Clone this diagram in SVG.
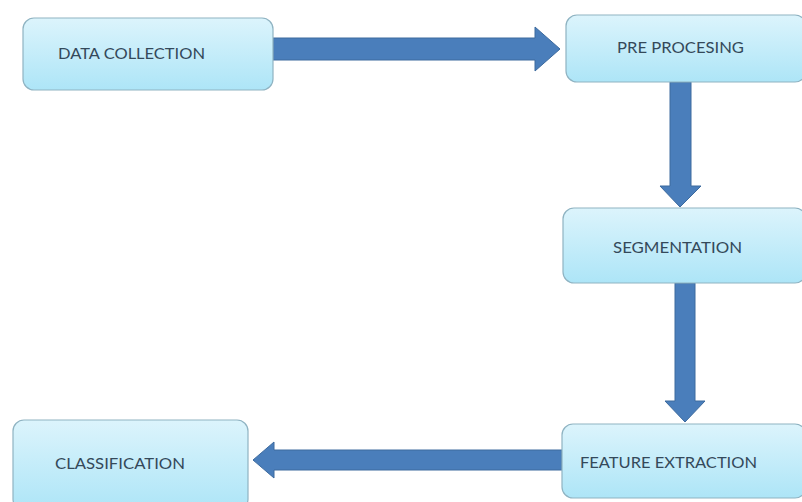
<svg xmlns="http://www.w3.org/2000/svg" width="802" height="502" viewBox="0 0 802 502">
<style>
.box{fill:url(#g);stroke:#8fb3c2;stroke-width:1.2}
.lbl{font-family:Lato,"Liberation Sans",sans-serif;font-size:14.5px;fill:#34495a;dominant-baseline:central}
.arr{fill:#4a7ebb;stroke:#3c6a9e;stroke-width:1}
</style>
<defs>
<linearGradient id="g" x1="0" y1="0" x2="0" y2="1">
<stop offset="0" stop-color="#dcf4fc"/>
<stop offset="1" stop-color="#ade5f7"/>
</linearGradient>
</defs>
<rect width="802" height="502" fill="#fff"/>
<g id="connectors">
<polygon class="arr" points="273,38 535,38 535,27 560,49 535,71 535,60 273,60"/>
<polygon class="arr" points="670,82 691,82 691,186 701,186 680,207 660,186 670,186"/>
<polygon class="arr" points="675,283 695,283 695,401 705,401 685,422 665,401 675,401"/>
<polygon class="arr" points="562,450 274,450 274,442 253,460 274,478 274,470 562,470"/>
</g>
<g id="n1"><rect class="box" x="23" y="18" width="250" height="72" rx="11"/><text class="lbl" x="58" y="53" textLength="147" lengthAdjust="spacingAndGlyphs">DATA COLLECTION</text></g>
<g id="n2"><rect class="box" x="566" y="15" width="240" height="67" rx="11"/><text class="lbl" x="617" y="47" textLength="127" lengthAdjust="spacingAndGlyphs">PRE PROCESING</text></g>
<g id="n3"><rect class="box" x="563" y="208" width="243" height="75" rx="11"/><text class="lbl" x="613" y="247" textLength="129" lengthAdjust="spacingAndGlyphs">SEGMENTATION</text></g>
<g id="n4"><rect class="box" x="562" y="424" width="244" height="74" rx="11"/><text class="lbl" x="580" y="462" textLength="177" lengthAdjust="spacingAndGlyphs">FEATURE EXTRACTION</text></g>
<g id="n5"><rect class="box" x="13" y="420" width="235" height="90" rx="11"/><text class="lbl" x="55" y="463" textLength="130" lengthAdjust="spacingAndGlyphs">CLASSIFICATION</text></g>
</svg>
